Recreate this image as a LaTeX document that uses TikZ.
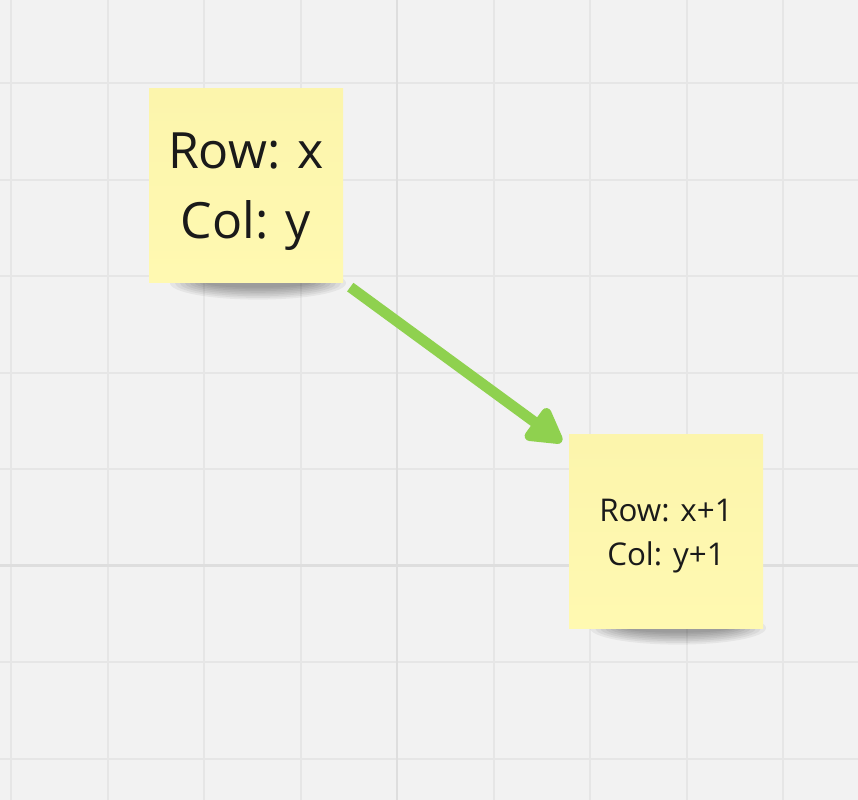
\documentclass[tikz,border=0pt]{standalone}
\usepackage{fontspec}
\setmainfont{Open Sans}
\usetikzlibrary{arrows.meta}
\definecolor{bg}{HTML}{F2F2F2}
\definecolor{gridc}{HTML}{E6E6E6}
\definecolor{gridmajor}{HTML}{DEDEDE}
\definecolor{stickyc}{HTML}{FFF9B1}
\definecolor{stickydark}{HTML}{FCF5AC}
\definecolor{arrowgreen}{HTML}{8FD14F}
\definecolor{ink}{HTML}{1A1A1A}
\begin{document}
\begin{tikzpicture}[x=0.75pt,y=-0.75pt,
  gridline/.style={gridc, line width=1.5pt},
  majorline/.style={gridmajor, line width=2pt},
  stickynote/.style={minimum width=145.5pt, minimum height=146pt, inner sep=0pt,
    top color=stickydark, bottom color=stickyc},
  notetext/.style={align=center, text=ink, inner sep=0pt},
  bigtext/.style={font=\fontsize{37.5}{53}\selectfont},
  smalltext/.style={font=\fontsize{23.5}{33}\selectfont},
  shadowpart/.style={black, opacity=0.05},
  connector/.style={arrowgreen, line width=8pt,
    -{Triangle[length=30pt, width=32pt, round]}}]
\fill[bg] (0,0) rectangle (858,800);
\useasboundingbox (0,0) rectangle (858,800);
\foreach \x in {11,107.5,...,858} \draw[gridline] (\x,0) -- (\x,800);
\foreach \y in {83,179.5,...,800} \draw[gridline] (0,\y) -- (858,\y);
\draw[majorline] (397,0) -- (397,800);
\draw[majorline] (0,565.5) -- (858,565.5);
% shadows
\foreach \i in {1,...,8}
  \fill[shadowpart] (258,283) ellipse ({(48+\i*5)*0.75pt} and {(3+\i*1.7)*0.75pt});
\foreach \i in {1,...,8}
  \fill[shadowpart] (678,628) ellipse ({(48+\i*5)*0.75pt} and {(3+\i*1.7)*0.75pt});
% stickies
\node[stickynote] (a) at (246,185.5) {};
\node[notetext, bigtext] (at) at ([yshift=-4.5pt]a.center) {Row: x\\Col: y};
\node[stickynote] (b) at (666,531.5) {};
\node[notetext, smalltext] (bt) at ([yshift=-3.5pt]b.center) {Row: x+1\\Col: y+1};
% connector
\draw[connector] ([shift={(7,4)}]a.south east) -- ([shift={(-7,8)}]b.north west);
\end{tikzpicture}
\end{document}
